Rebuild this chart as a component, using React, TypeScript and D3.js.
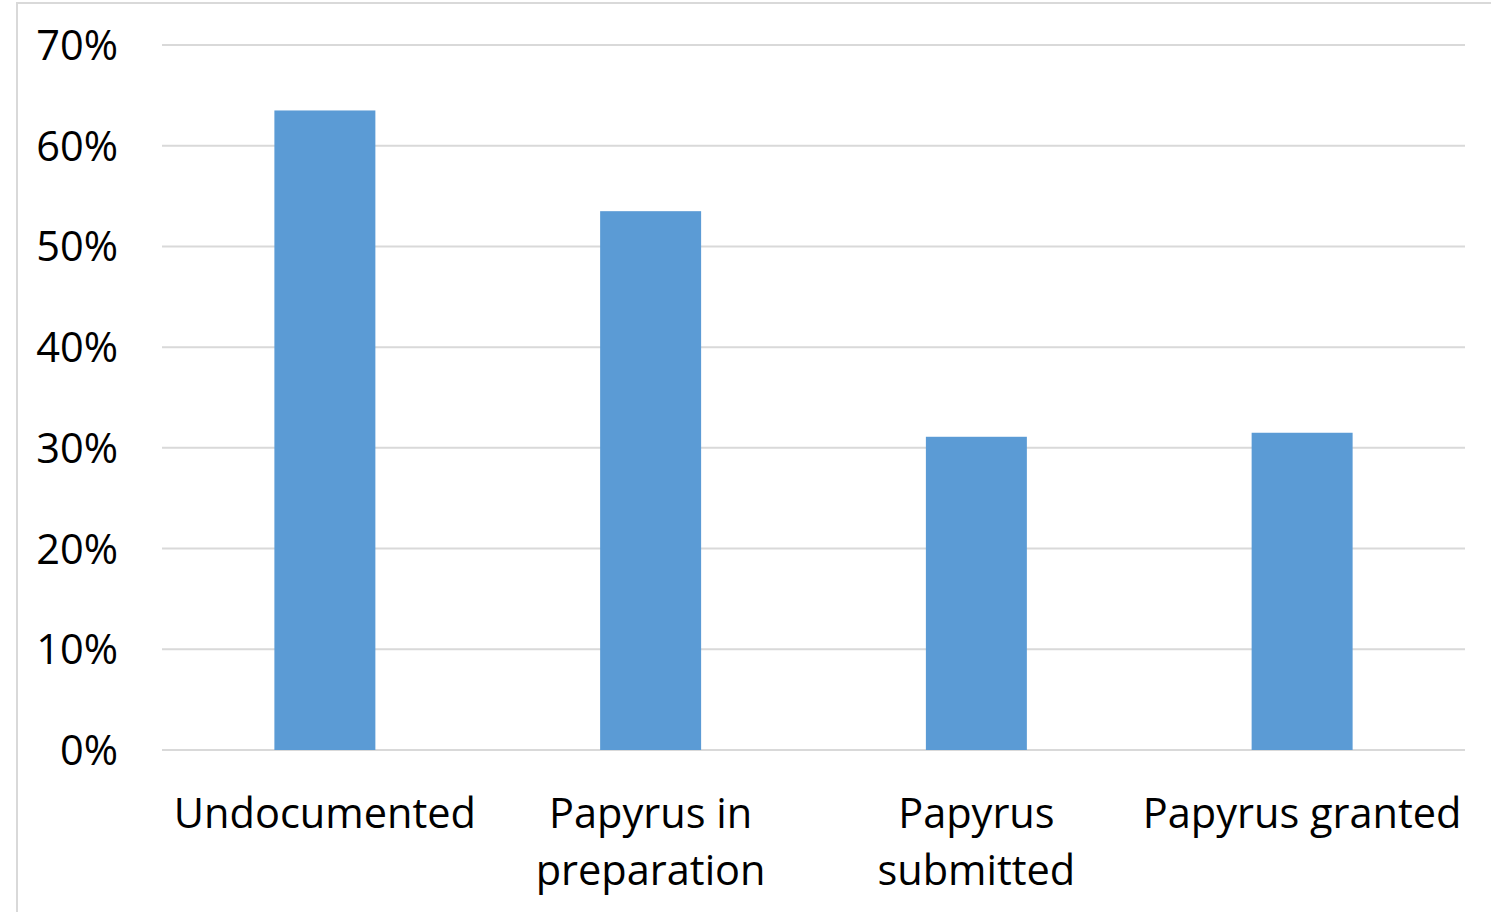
import React from "react";
import * as d3 from "d3";

const categories: string[][] = [
  ["Undocumented"],
  ["Papyrus in", "preparation"],
  ["Papyrus", "submitted"],
  ["Papyrus granted"],
];
const values: number[] = [0.635, 0.535, 0.311, 0.315];
const yTicks: number[] = [0, 0.1, 0.2, 0.3, 0.4, 0.5, 0.6, 0.7];

const W = 1491;
const H = 912;
const M = { left: 162, right: 26, top: 45, bottom: 162 };
const FONT = "'Open Sans', sans-serif";

export default function App() {
  const x = d3
    .scaleBand<number>()
    .domain(d3.range(categories.length))
    .range([M.left, W - M.right])
    .paddingInner(0.69)
    .paddingOuter(0.345);
  const y = d3.scaleLinear().domain([0, 0.7]).range([H - M.bottom, M.top]);
  const fmt = d3.format(".0%");

  return (
    <svg
      width={W}
      height={H}
      style={{ position: "absolute", left: 0, top: 0, background: "#fff" }}
    >
      <path d={`M17,${H} V3 H${W}`} fill="none" stroke="#d9d9d9" strokeWidth={2} />
      {yTicks.map((t) => (
        <g key={t}>
          <line
            x1={M.left}
            x2={W - M.right}
            y1={y(t)}
            y2={y(t)}
            stroke="#d9d9d9"
            strokeWidth={2}
          />
          <text
            x={118}
            y={y(t) + 15}
            textAnchor="end"
            fontFamily={FONT}
            fontSize={41.5}
            fill="#000"
          >
            {fmt(t)}
          </text>
        </g>
      ))}
      {values.map((v, i) => (
        <rect
          key={i}
          x={x(i)}
          y={y(v)}
          width={x.bandwidth()}
          height={y(0) - y(v)}
          fill="#5b9bd5"
        />
      ))}
      {categories.map((lines, i) => (
        <text
          key={i}
          textAnchor="middle"
          fontFamily={FONT}
          fontSize={41.5}
          fill="#000"
        >
          {lines.map((l, j) => (
            <tspan key={j} x={(x(i) as number) + x.bandwidth() / 2} y={828 + j * 57}>
              {l}
            </tspan>
          ))}
        </text>
      ))}
    </svg>
  );
}
